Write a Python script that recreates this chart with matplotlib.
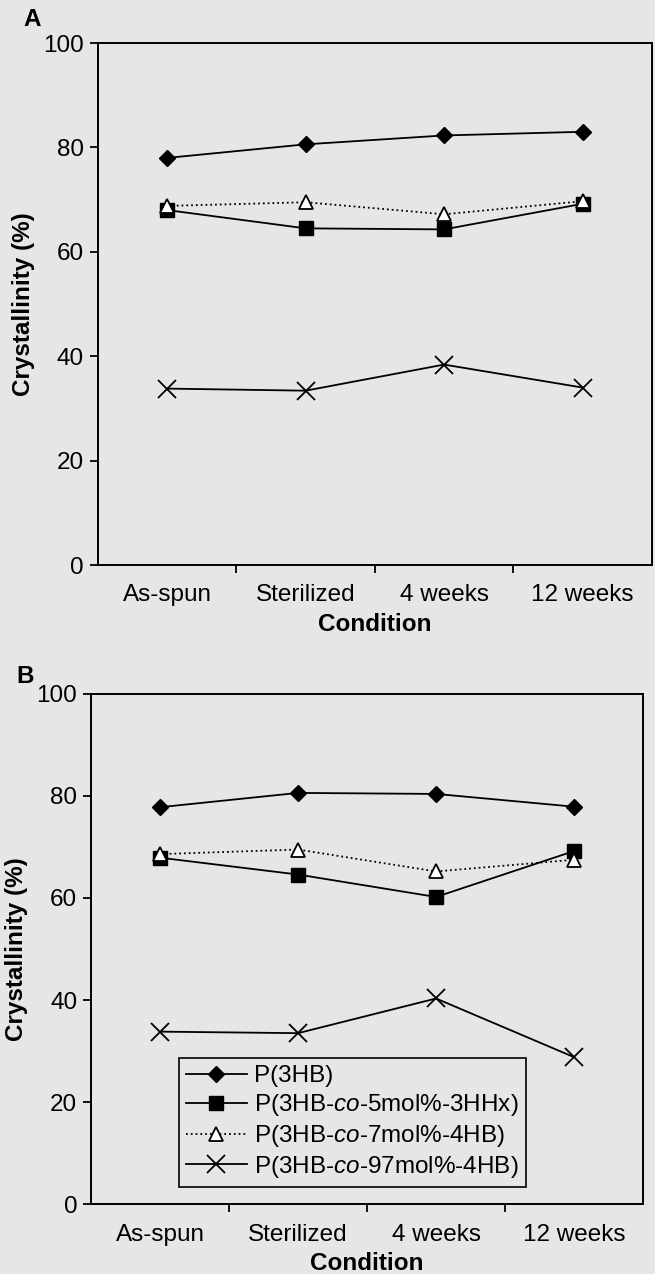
import numpy as np
import matplotlib
matplotlib.use("Agg")
import matplotlib.pyplot as plt

plt.rcParams['font.family'] = ['Liberation Sans', 'DejaVu Sans']
plt.rcParams['mathtext.fontset'] = 'custom'
plt.rcParams['mathtext.rm'] = 'Liberation Sans'
plt.rcParams['mathtext.it'] = 'Liberation Sans:italic'

# data
conditions = ["As-spun", "Sterilized", "4 weeks", "12 weeks"]
series_names = ["P(3HB)",
                r"P(3HB-$\mathit{co}$-5mol%-3HHx)",
                r"P(3HB-$\mathit{co}$-7mol%-4HB)",
                r"P(3HB-$\mathit{co}$-97mol%-4HB)"]

# panel A
a_p3hb = [78.0, 80.6, 82.3, 83.0]
a_3hhx = [68.0, 64.5, 64.3, 69.2]
a_7mol = [68.8, 69.5, 67.2, 69.7]
a_97mol = [33.8, 33.4, 38.4, 34.0]

# panel B
b_p3hb = [77.8, 80.6, 80.4, 77.9]
b_3hhx = [67.9, 64.6, 60.2, 69.2]
b_7mol = [68.6, 69.5, 65.2, 67.5]
b_97mol = [33.8, 33.5, 40.3, 28.8]

bg = '#e6e6e6'
fs = 17.5

styles = [dict(marker='D', ms=8.5, ls='-', mfc='black', mec='black'),
          dict(marker='s', ms=10, ls='-', mfc='black', mec='black'),
          dict(marker='^', ms=10, ls=':', mfc='white', mec='black', mew=1.3),
          dict(marker='x', ms=13, ls='-', mec='black', mew=1.3)]


def panel(ax, data):
    x = np.arange(len(conditions))
    lines = []
    for vals, name, st in zip(data, series_names, styles):
        ln, = ax.plot(x, vals, color='black', lw=1.3, label=name, **st)
        lines.append(ln)
    ax.set_facecolor(bg)
    ax.set_xlim(-0.5, 3.5)
    ax.set_ylim(0, 100)
    ax.set_yticks([0, 20, 40, 60, 80, 100])
    ax.set_xticks(x)
    ax.set_xticklabels(conditions)
    ax.set_xticks([0.5, 1.5, 2.5], minor=True)
    ax.tick_params(axis='x', which='major', length=0, pad=14, labelsize=fs)
    ax.tick_params(axis='x', which='minor', length=6, width=1.3, direction='out')
    ax.tick_params(axis='y', length=6, width=1.3, direction='out', pad=4, labelsize=fs)
    for s in ax.spines.values():
        s.set_linewidth(1.4)
    ax.set_xlabel("Condition", fontsize=fs, fontweight='bold', labelpad=5)
    ax.set_ylabel("Crystallinity (%)", fontsize=fs, fontweight='bold', labelpad=6)
    return lines


fig = plt.figure(figsize=(6.55, 12.74), dpi=100, facecolor=bg)

axA = fig.add_axes([0.1496, 0.5565, 0.8454, 0.4097])
panel(axA, [a_p3hb, a_3hhx, a_7mol, a_97mol])

axB = fig.add_axes([0.139, 0.0549, 0.8427, 0.4004])
panel(axB, [b_p3hb, b_3hhx, b_7mol, b_97mol])

leg = axB.legend(loc='lower left', bbox_to_anchor=(0.159, 0.033), fontsize=fs,
                 frameon=True, fancybox=False, edgecolor='black', facecolor=bg,
                 framealpha=1, handlelength=2.5, handletextpad=0.3,
                 labelspacing=0.2, borderpad=0.3, borderaxespad=0)
leg.get_frame().set_linewidth(1.2)

fig.text(0.035, 0.985, "A", fontsize=fs, fontweight='bold', ha='left', va='center')
fig.text(0.025, 0.469, "B", fontsize=fs, fontweight='bold', ha='left', va='center')

fig.savefig("out.png", dpi=100, facecolor=bg)
